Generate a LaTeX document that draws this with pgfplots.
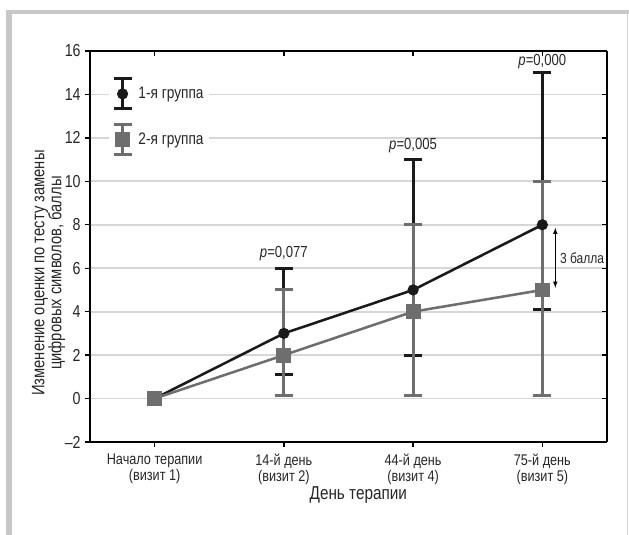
\documentclass[border=0pt]{standalone}
\usepackage{fontspec}
\setmainfont[FakeStretch=0.82]{Liberation Sans}
\usepackage{pgfplots}
\pgfplotsset{compat=1.18}
\definecolor{GrOne}{HTML}{1A1A1A}
\definecolor{GrTwo}{HTML}{6E6E6E}
\definecolor{GridC}{HTML}{D6D6D6}
\definecolor{FrameC}{HTML}{C8C8C8}

\begin{document}
\begin{tikzpicture}
\path[use as bounding box] (0,0) rectangle (471.75pt,401.25pt);
% frame
\fill[FrameC] (4.5pt,390.75pt) rectangle (471.75pt,393.75pt);
\fill[FrameC] (4.5pt,0pt) rectangle (9pt,393.75pt);
\draw[GridC,line width=0.75pt] (470.6pt,0pt) -- (470.6pt,390.75pt);

\begin{axis}[
  at={(67.5pt,69.75pt)},anchor=south west,
  scale only axis,width=387.75pt,height=293.25pt,
  xmin=-0.5,xmax=3.5,ymin=-2,ymax=16,
  xtick={0,1,2,3},
  xticklabels={Начало терапии\\(визит 1),14-й день\\(визит 2),44-й день\\(визит 4),75-й день\\(визит 5)},
  xticklabel style={align=center,font=\fontsize{11.6}{10}\selectfont,text=black!85,yshift=-2pt},
  ytick={-2,0,...,16},
  yticklabels={–2,0,2,4,6,8,10,12,14,16},
  yticklabel style={font=\fontsize{13}{13}\selectfont,text=black!85},
  axis x line*=bottom,axis y line*=left,
  axis line style={line width=1.1pt,-},
  tick align=outside,major tick length=3.5pt,
  tick style={line width=1pt,black},
  ymajorgrids,grid style={GridC,line width=1.4pt},
  xlabel={День терапии},
  xlabel style={at={(axis description cs:0.519,-0.136)},anchor=center,font=\fontsize{14}{14}\selectfont,text=black!85},
  ylabel={Изменение оценки по тесту замены\\цифровых символов, баллы},
  ylabel style={at={(axis description cs:-0.08,0.432)},anchor=center,align=center,font=\fontsize{13.5}{12.75}\selectfont,text=black!85},
  legend style={at={(0.037,0.94)},anchor=north west,draw=none,fill=white,
    font=\fontsize{12.5}{13}\selectfont,text=black!85,row sep=9.25pt,
    inner xsep=2pt,inner ysep=2pt},
  legend cell align=left,
  legend image code/.code={
    \draw[#1,mark=none,line width=2.25pt]
      (0pt,-11.25pt) -- (0pt,11.25pt)
      (-6.75pt,-11.25pt) -- (6.75pt,-11.25pt)
      (-6.75pt,11.25pt) -- (6.75pt,11.25pt);
    \path (9pt,0pt);
    \draw[#1] plot coordinates {(0pt,0pt)};
  },
  error bars/error bar style={line width=2.25pt},
  error bars/error mark options={rotate=90,mark size=6.75pt,line width=2.25pt},
]
% 1-я группа: error bars
\addplot[GrOne,draw=none,mark=none,forget plot,
  error bars/.cd,y dir=both,y explicit]
  coordinates {(1,3) += (0,3.0) -= (0,1.9)
               (2,5) += (0,6.0) -= (0,3.0)
               (3,8) += (0,7.0) -= (0,3.9)};
% 2-я группа: error bars
\addplot[GrTwo,draw=none,mark=none,forget plot,
  error bars/.cd,y dir=both,y explicit]
  coordinates {(1,2) += (0,3.0) -= (0,1.85)
               (2,4) += (0,4.0) -= (0,3.85)
               (3,5) += (0,5.0) -= (0,4.85)};
% means
\addplot[GrOne,line width=1.9pt,mark=*,mark size=3.2pt,mark options={solid,fill=GrOne}]
  coordinates {(0,0) (1,3) (2,5) (3,8)};
\addlegendentry{1-я группа}
\addplot[GrTwo,line width=1.9pt,mark=square*,mark size=4.6pt,mark options={solid,fill=GrTwo}]
  coordinates {(0,0) (1,2) (2,4) (3,5)};
\addlegendentry{2-я группа}
% p values
\node[anchor=base,inner sep=0pt,font=\fontsize{12}{12}\selectfont,text=black!85] at (axis cs:1,6.48) {\textit{p}=0,077};
\node[anchor=base,inner sep=0pt,font=\fontsize{12}{12}\selectfont,text=black!85] at (axis cs:2,11.45) {\textit{p}=0,005};
\node[anchor=base,inner sep=0pt,font=\fontsize{12}{12}\selectfont,text=black!85] at (axis cs:3,15.33) {\textit{p}=0,000};
% difference
\draw[black,line width=0.6pt,<->,>={latex}] (axis cs:3.1,7.86) -- (axis cs:3.1,5.1);
\node[anchor=west,font=\fontsize{11}{11}\selectfont,text=black!85,inner sep=0pt] at (axis cs:3.135,6.45) {3 балла};
\end{axis}
\begin{axis}[
  at={(67.5pt,69.75pt)},anchor=south west,
  scale only axis,width=387.75pt,height=293.25pt,
  xmin=-0.5,xmax=3.5,ymin=-2,ymax=16,
  xtick={0,1,2,3},ytick={-2,0,...,16},
  xticklabels={},yticklabels={},
  axis x line*=top,axis y line*=right,
  axis line style={line width=1.1pt,-},
  tick align=inside,major tick length=4pt,
  tick style={line width=1pt,black},
]
\end{axis}
\end{tikzpicture}
\end{document}
